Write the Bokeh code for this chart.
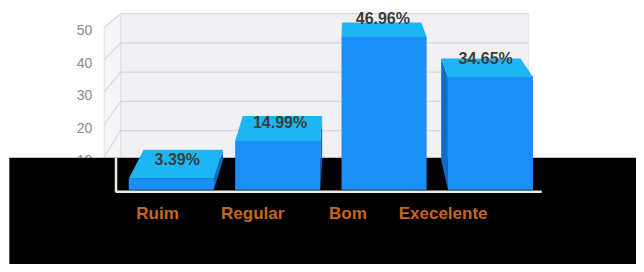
from bokeh.plotting import figure
from bokeh.models import BoxAnnotation, ColumnDataSource, Range1d
from bokeh.core.properties import value
from bokeh.embed import file_html
from bokeh.resources import INLINE

# ---- data ----
categories = ["Ruim", "Regular", "Bom", "Execelente"]
percentages = [3.39, 14.99, 46.96, 34.65]
tick_values = [10, 20, 30, 40, 50]
tick_labels = ["10", "20", "30", "40", "50"]

# ---- layout / style constants ----
W, H = 636, 264
X_RANGE = (-1.606, 4.373)
Y_RANGE = (-22.99, 58.21)
BAR_W = 0.8
VX, VY = 1.662, 91.3          # perspective vanishing point (data units)
KX, KY = 0.0675, 0.101        # depth factors
WALL_L, WALL_R = -0.631, 3.482
Y_MAX = 50
FLOOR_L, FLOOR_R, FLOOR_Y = -0.52, 3.482, -0.6
BLACK_TOP, BLACK_LEFT = 9.85, -1.523
LABEL_X_SCALE, LABEL_X_SHIFT = 0.895, -0.13
FONT = "Liberation Sans"

C_FRONT = "#1b8ff8"
C_TOP = "#1db5f3"
C_SIDE = "#0e6cc4"


def back(x, y):
    return x + KX * (VX - x), y + KY * (VY - y)


p = figure(width=W, height=H, output_backend="svg", toolbar_location=None,
           x_range=Range1d(*X_RANGE), y_range=Range1d(*Y_RANGE),
           x_axis_type=None, y_axis_type=None, min_border=0,
           outline_line_color=None, background_fill_color="white",
           border_fill_color="white")

# ---- walls ----
bl0 = back(WALL_L, 0)
bl1 = back(WALL_L, Y_MAX)
br0 = back(WALL_R, 0)
br1 = back(WALL_R, Y_MAX)
p.patches(xs=[[WALL_L, WALL_L, bl1[0], bl0[0]], [bl0[0], bl1[0], br1[0], br0[0]]],
          ys=[[0, Y_MAX, bl1[1], bl0[1]], [bl0[1], bl1[1], br1[1], br0[1]]],
          fill_color=["#f5f5f7", "#f1f1f4"], line_color="#e2e2e6", line_width=1,
          level="image")

# gridlines
gx, gy = [], []
for t in tick_values:
    b0 = back(WALL_L, t)
    b1 = back(WALL_R, t)
    gx.append([WALL_L, b0[0], b1[0]])
    gy.append([t, b0[1], b1[1]])
p.multi_line(xs=gx, ys=gy, line_color="#d9d9de", line_width=1.2, level="image")

# tick labels (front of left wall)
p.text(x=[WALL_L] * len(tick_values), y=tick_values, text=tick_labels,
       text_font=value(FONT), text_font_size="14px", text_color="#8a8a8a",
       text_align="right", text_baseline="middle", x_offset=-12, y_offset=3,
       level="image")

# black backdrop
p.add_layout(BoxAnnotation(top=BLACK_TOP, left=BLACK_LEFT, fill_color="black",
                           fill_alpha=1.0, line_alpha=0, level="underlay"))

# ---- bars ----
xs_c = list(range(len(categories)))
lefts = [x - BAR_W / 2 for x in xs_c]
rights = [x + BAR_W / 2 for x in xs_c]

side_x, side_y = [], []
top_x, top_y = [], []
for l, r, v in zip(lefts, rights, percentages):
    bl = back(l, v)
    br = back(r, v)
    top_x.append([l, r, br[0], bl[0]])
    top_y.append([v, v, br[1], bl[1]])
    if br[0] > r:
        b0 = back(r, 0)
        side_x.append([r, r, br[0], b0[0]])
        side_y.append([0, v, br[1], b0[1]])
    if bl[0] < l:
        b0 = back(l, 0)
        side_x.append([l, l, bl[0], b0[0]])
        side_y.append([0, v, bl[1], b0[1]])

p.patches(xs=side_x, ys=side_y, fill_color=C_SIDE, line_color=None)
p.patches(xs=top_x, ys=top_y, fill_color=C_TOP, line_color=None)
src = ColumnDataSource(dict(left=lefts, right=rights, top=percentages,
                            bottom=[0] * len(percentages)))
p.quad(left="left", right="right", top="top", bottom="bottom", source=src,
       fill_color=C_FRONT, line_color=None)

# floor line
p.line(x=[FLOOR_L, FLOOR_L, FLOOR_R], y=[BLACK_TOP, FLOOR_Y, FLOOR_Y],
       line_color="#ecebe2", line_width=2.5)

# value labels
lab_x = [(x + back(x, v)[0]) / 2 for x, v in zip(xs_c, percentages)]
p.text(x=lab_x, y=percentages, text=[f"{v:.2f}%" for v in percentages],
       text_font=value(FONT), text_font_size="16px", text_font_style="bold",
       text_color="#3c3c3c", text_align="center", text_baseline="middle",
       y_offset=-19)

# category labels
cat_x = [LABEL_X_SCALE * x + LABEL_X_SHIFT for x in xs_c]
p.text(x=cat_x, y=[0] * len(categories), text=categories,
       text_font=value(FONT), text_font_size="17px", text_font_style="bold",
       text_color="#c4671f", text_align="center", text_baseline="middle",
       y_offset=24)

open("out.html", "w").write(file_html(p, INLINE))
